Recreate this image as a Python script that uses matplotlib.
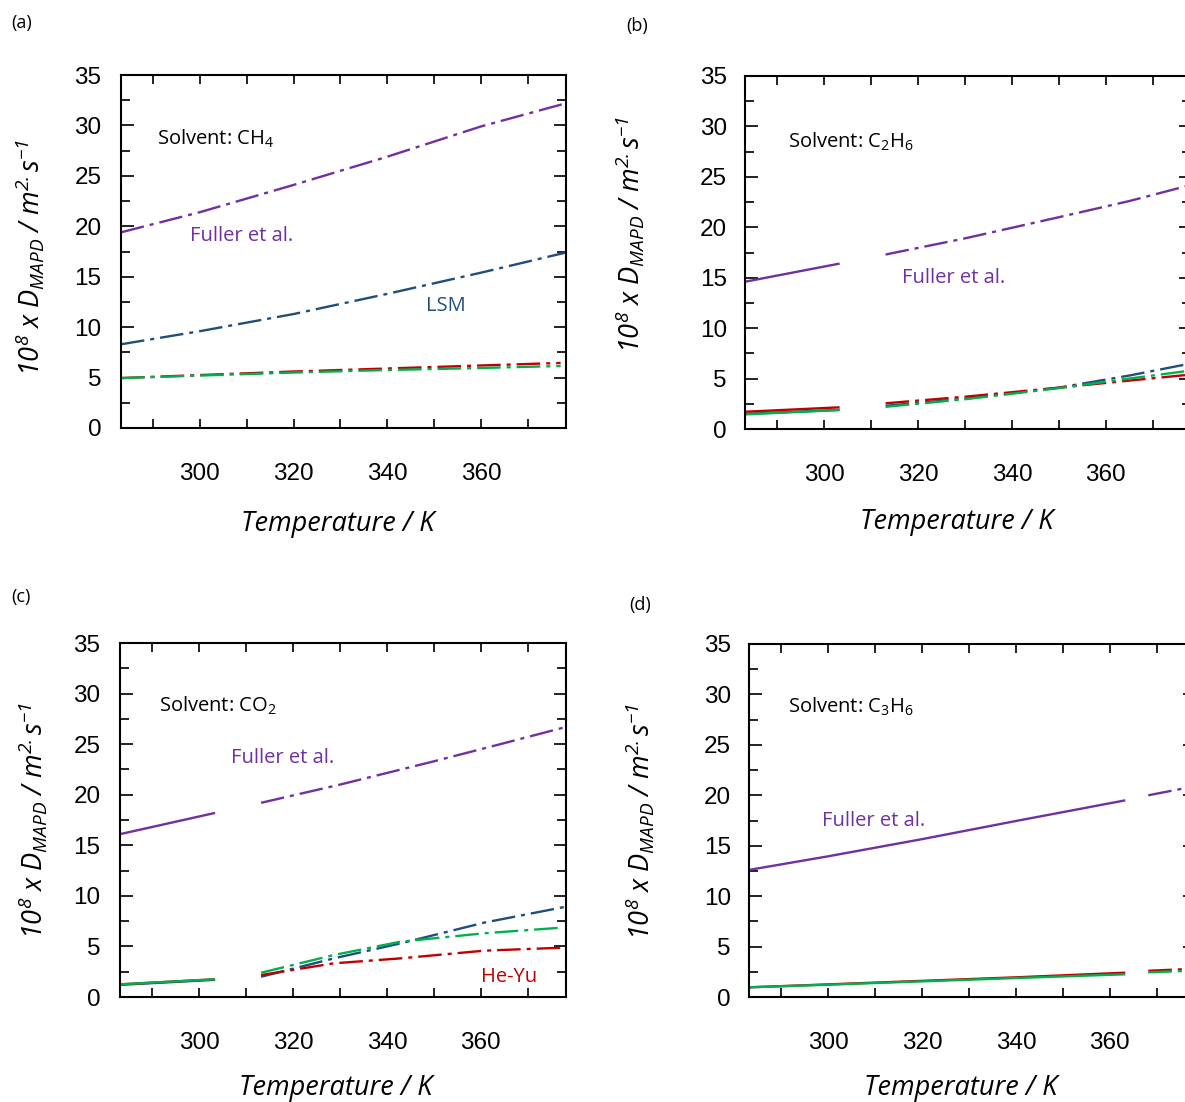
import matplotlib
matplotlib.use("Agg")
import matplotlib.pyplot as plt
from matplotlib.ticker import MultipleLocator

plt.rcParams['lines.scale_dashes'] = False
plt.rcParams['mathtext.fontset'] = 'custom'
plt.rcParams['mathtext.rm'] = 'Open Sans'
plt.rcParams['mathtext.it'] = 'Open Sans:italic'
plt.rcParams['mathtext.sf'] = 'Open Sans:italic'

PURPLE = '#7030A0'
BLUE = '#1F4E79'
RED = '#C00000'
GREEN = '#00B050'
DASHDOT = (0, (17, 4.3, 2.9, 4.3))

# ---- panel (a): solvent CH4 (all dash-dot) ----
T_A = [283.15, 300, 320, 340, 360, 378.15]
A_FULLER = [19.4, 21.4, 24.1, 26.9, 29.9, 32.2]
A_LSM = [8.3, 9.6, 11.3, 13.3, 15.4, 17.4]
T_A_LOW = [283.15, 300, 320, 340, 360, 377]
A_HEYU = [4.95, 5.25, 5.6, 5.9, 6.2, 6.45]
A_GREEN = [4.95, 5.2, 5.5, 5.75, 5.95, 6.15]

# ---- panel (b): solvent C2H6 ----
T_B_SOLID = [283.15, 303.3]
B_FULLER_SOLID = [14.6, 16.4]
B_LSM_SOLID = [1.5, 1.9]
B_HEYU_SOLID = [1.71, 2.15]
B_GREEN_SOLID = [1.45, 1.88]
T_B_DASH = [313.1, 330, 350, 365, 378.15]
B_FULLER_DASH = [17.3, 18.9, 21.0, 22.6, 24.2]
B_LSM_DASH = [2.3, 3.0, 4.1, 5.3, 6.5]
B_HEYU_DASH = [2.55, 3.2, 4.1, 4.8, 5.4]
B_GREEN_DASH = [2.2, 2.95, 4.05, 5.0, 5.8]

# ---- panel (c): solvent CO2 ----
T_C_SOLID = [283.15, 303.4]
C_FULLER_SOLID = [16.1, 18.2]
C_LSM_SOLID = [1.2, 1.7]
C_HEYU_SOLID = [1.25, 1.75]
C_GREEN_SOLID = [1.25, 1.75]
T_C_FULLER_DASH = [313.2, 330, 350, 365, 378.15]
C_FULLER_DASH = [19.2, 21.0, 23.3, 25.1, 26.7]
T_C_DASH = [313.2, 328.7, 342.9, 360.7, 378.15]
C_LSM_DASH = [2.0, 3.82, 5.3, 7.35, 8.93]
T_C_LOW_DASH = [313.2, 328.7, 342.9, 360.7, 377]
C_HEYU_DASH = [2.17, 3.33, 3.82, 4.58, 4.87]
C_GREEN_DASH = [2.4, 4.15, 5.47, 6.3, 6.85]

# ---- panel (d): solvent C3H6 ----
T_D_SOLID = [283.15, 300, 320, 340, 363.3]
D_FULLER_SOLID = [12.6, 13.95, 15.65, 17.45, 19.5]
D_HEYU_SOLID = [0.96, 1.25, 1.6, 1.95, 2.41]
D_GREEN_SOLID = [0.96, 1.22, 1.55, 1.88, 2.25]
T_D_DASH = [368.2, 378.15]
D_FULLER_DASH = [20.0, 20.9]
D_HEYU_DASH = [2.6, 2.8]
D_GREEN_DASH = [2.45, 2.62]

W, H = 1185, 1102
fig = plt.figure(figsize=(W / 100, H / 100), dpi=100)


def px_axes(left, top, right, bottom):
    return fig.add_axes([left / W, 1 - bottom / H, (right - left) / W, (bottom - top) / H])


ax_a = px_axes(121, 75, 566, 428)
ax_b = px_axes(745, 76, 1191, 429)
ax_c = px_axes(120, 643, 566, 997)
ax_d = px_axes(749, 644, 1195, 997)

YLABEL = r'10$^{\mathsf{8}}$ x D$_{MAPD}$ / m$^{\mathsf{2.}}$s$^{\mathsf{-1}}$'


def style(ax, xlab, ylab, tickpad_y=14):
    ax.set_xlim(283.15, 378.15)
    ax.set_ylim(0, 35)
    ax.xaxis.set_major_locator(MultipleLocator(20))
    ax.xaxis.set_minor_locator(MultipleLocator(10))
    ax.yaxis.set_major_locator(MultipleLocator(5))
    ax.yaxis.set_minor_locator(MultipleLocator(2.5))
    ax.tick_params(axis='both', which='both', direction='in', top=True, right=True,
                   width=1.4, color='#222222')
    ax.tick_params(axis='x', which='both', length=6.5, pad=25)
    ax.tick_params(axis='y', which='major', length=9, pad=tickpad_y)
    ax.tick_params(axis='y', which='minor', length=6.5)
    for lab in ax.get_xticklabels() + ax.get_yticklabels():
        lab.set_fontfamily('Liberation Sans')
        lab.set_fontsize(17.5)
    for sp in ax.spines.values():
        sp.set_linewidth(1.5)
    ax.set_xlabel('Temperature / K', fontsize=19.5, fontstyle='italic',
                  fontfamily='Open Sans', va='center', ha='center')
    ax.xaxis.set_label_coords(*xlab)
    ax.set_ylabel(YLABEL, fontsize=19.5, fontstyle='italic',
                  fontfamily='Open Sans', va='center', ha='center')
    ax.yaxis.set_label_coords(*ylab)


def line(ax, t, v, color, solid=False):
    if solid:
        ax.plot(t, v, color=color, lw=1.7, ls='-', solid_capstyle='butt')
    else:
        ax.plot(t, v, color=color, lw=1.7, ls=DASHDOT, dash_capstyle='butt')


# (a)
line(ax_a, T_A, A_FULLER, PURPLE)
line(ax_a, T_A, A_LSM, BLUE)
line(ax_a, T_A_LOW, A_HEYU, RED)
line(ax_a, T_A_LOW, A_GREEN, GREEN)
style(ax_a, (0.488, -0.272), (-0.205, 0.484))

# (b)
line(ax_b, T_B_SOLID, B_FULLER_SOLID, PURPLE, solid=True)
line(ax_b, T_B_SOLID, B_LSM_SOLID, BLUE, solid=True)
line(ax_b, T_B_SOLID, B_HEYU_SOLID, RED, solid=True)
line(ax_b, T_B_SOLID, B_GREEN_SOLID, GREEN, solid=True)
line(ax_b, T_B_DASH, B_FULLER_DASH, PURPLE)
line(ax_b, T_B_DASH, B_LSM_DASH, BLUE)
line(ax_b, T_B_DASH, B_HEYU_DASH, RED)
line(ax_b, T_B_DASH, B_GREEN_DASH, GREEN)
style(ax_b, (0.475, -0.263), (-0.258, 0.552), tickpad_y=13)

# (c)
line(ax_c, T_C_SOLID, C_FULLER_SOLID, PURPLE, solid=True)
line(ax_c, T_C_SOLID, C_LSM_SOLID, BLUE, solid=True)
line(ax_c, T_C_SOLID, C_HEYU_SOLID, RED, solid=True)
line(ax_c, T_C_SOLID, C_GREEN_SOLID, GREEN, solid=True)
line(ax_c, T_C_FULLER_DASH, C_FULLER_DASH, PURPLE)
line(ax_c, T_C_DASH, C_LSM_DASH, BLUE)
line(ax_c, T_C_LOW_DASH, C_HEYU_DASH, RED)
line(ax_c, T_C_LOW_DASH, C_GREEN_DASH, GREEN)
style(ax_c, (0.483, -0.257), (-0.195, 0.5))

# (d)
line(ax_d, T_D_SOLID, D_FULLER_SOLID, PURPLE, solid=True)
line(ax_d, T_D_SOLID, D_HEYU_SOLID, RED, solid=True)
line(ax_d, T_D_SOLID, D_GREEN_SOLID, GREEN, solid=True)
line(ax_d, T_D_DASH, D_FULLER_DASH, PURPLE)
line(ax_d, T_D_DASH, D_HEYU_DASH, RED)
line(ax_d, T_D_DASH, D_GREEN_DASH, GREEN)
style(ax_d, (0.475, -0.258), (-0.244, 0.496), tickpad_y=13)

# annotations
ann = dict(fontfamily='Open Sans', fontsize=14.5)
ax_a.text(290.8, 28.65, 'Solvent: CH$_4$', va='center', ha='left', **ann)
ax_a.text(308.9, 19.0, 'Fuller et al.', va='center', ha='center', color=PURPLE, **ann)
ax_a.text(352.5, 12.1, 'LSM', va='center', ha='center', color=BLUE, **ann)
ax_b.text(292.4, 28.46, 'Solvent: C$_2$H$_6$', va='center', ha='left', **ann)
ax_b.text(327.5, 14.96, 'Fuller et al.', va='center', ha='center', color=PURPLE, **ann)
ax_c.text(291.5, 28.8, 'Solvent: CO$_2$', va='center', ha='left', **ann)
ax_c.text(317.7, 23.66, 'Fuller et al.', va='center', ha='center', color=PURPLE, **ann)
ax_c.text(366.0, 1.98, 'He-Yu', va='center', ha='center', color=RED, **ann)
ax_d.text(291.5, 28.78, 'Solvent: C$_3$H$_6$', va='center', ha='left', **ann)
ax_d.text(309.7, 17.48, 'Fuller et al.', va='center', ha='center', color=PURPLE, **ann)

# panel letters
for lab, x, y in [('(a)', 22, 23), ('(b)', 637, 26), ('(c)', 21, 597), ('(d)', 640, 605)]:
    fig.text(x / W, 1 - y / H, lab, fontsize=13, fontfamily='Open Sans',
             ha='center', va='center')

fig.savefig('out.png', dpi=100)
